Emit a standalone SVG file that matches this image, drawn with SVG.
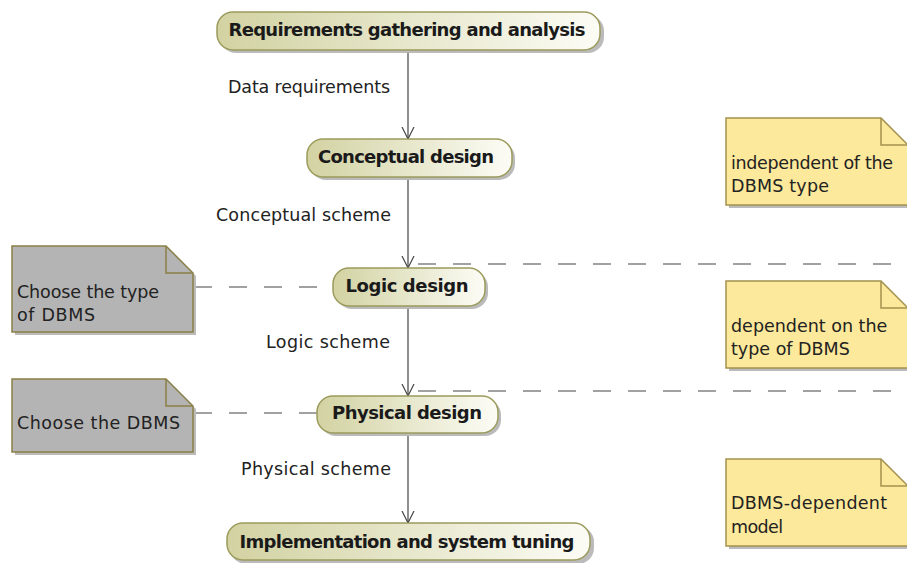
<svg xmlns="http://www.w3.org/2000/svg" width="907" height="563" viewBox="0 0 907 563">
<defs>
<linearGradient id="ng" x1="0" y1="0" x2="1" y2="0">
<stop offset="0" stop-color="#d2d2a2"/>
<stop offset="1" stop-color="#fcfcf6"/>
</linearGradient>
<marker id="arr" markerWidth="14" markerHeight="14" refX="12" refY="7" orient="auto" markerUnits="userSpaceOnUse" viewBox="0 0 14 14">
<path d="M0,1 L12,7 L0,13" fill="none" stroke="#444" stroke-width="1.2"/>
</marker>
</defs>
<style>
.node rect.b{fill:url(#ng);stroke:#9b9b5c;stroke-width:1.5}
.sh{fill:#bbb}
.nt{font-family:"DejaVu Sans","Liberation Sans",sans-serif;font-weight:bold;font-size:18px;fill:#1a1a1a;text-anchor:middle}
.lb{font-family:"DejaVu Sans","Liberation Sans",sans-serif;font-size:17.5px;fill:#222;text-anchor:end}
.tx{font-family:"DejaVu Sans","Liberation Sans",sans-serif;font-size:17.5px;fill:#222}
.gn{fill:#b4b4b4;stroke:#8a8045;stroke-width:1.5}
.yn{fill:#fce99b;stroke:#a39150;stroke-width:1.5}
.fold{fill:none;stroke-width:1.5}
.flow{stroke:#444;stroke-width:1.2;fill:none}
.dash{stroke:#444;stroke-width:1.2;stroke-dasharray:18,17;fill:none}
</style>
<g id="connectors">
<line class="flow" x1="408" y1="50" x2="408" y2="139" marker-end="url(#arr)"/>
<line class="flow" x1="408" y1="177" x2="408" y2="268" marker-end="url(#arr)"/>
<line class="flow" x1="408" y1="307" x2="408" y2="396" marker-end="url(#arr)"/>
<line class="flow" x1="408" y1="434" x2="408" y2="523" marker-end="url(#arr)"/>
<line class="dash" x1="418" y1="264" x2="907" y2="264"/>
<line class="dash" x1="418" y1="391" x2="907" y2="391"/>
<line class="dash" x1="194" y1="287" x2="333" y2="287"/>
<line class="dash" x1="194" y1="413" x2="317" y2="413"/>
</g>
<g id="labels">
<text class="lb" x="390" y="93" textLength="162">Data requirements</text>
<text class="lb" x="391" y="221" textLength="175">Conceptual scheme</text>
<text class="lb" x="390" y="348" textLength="124">Logic scheme</text>
<text class="lb" x="391" y="475" textLength="150">Physical scheme</text>
</g>
<g id="n1" class="node">
<rect class="sh" x="220" y="15" width="384" height="38" rx="16"/>
<rect class="b" x="217" y="12" width="383" height="38" rx="16"/>
<text class="nt" x="407" y="36" textLength="357">Requirements gathering and analysis</text>
</g>
<g id="n2" class="node">
<rect class="sh" x="310" y="142" width="205" height="38" rx="16"/>
<rect class="b" x="307" y="139" width="205" height="38" rx="16"/>
<text class="nt" x="406" y="163" textLength="176">Conceptual design</text>
</g>
<g id="n3" class="node">
<rect class="sh" x="336" y="271" width="152" height="38" rx="16"/>
<rect class="b" x="333" y="268" width="152" height="38" rx="16"/>
<text class="nt" x="407" y="292" textLength="123">Logic design</text>
</g>
<g id="n4" class="node">
<rect class="sh" x="320" y="399" width="181" height="37" rx="16"/>
<rect class="b" x="317" y="396" width="181" height="37" rx="16"/>
<text class="nt" x="407" y="419" textLength="150">Physical design</text>
</g>
<g id="n5" class="node">
<rect class="sh" x="230" y="526" width="364" height="38" rx="16"/>
<rect class="b" x="227" y="523" width="363" height="37" rx="16"/>
<text class="nt" x="407" y="548" textLength="335">Implementation and system tuning</text>
</g>
<g id="note1">
<path class="sh" d="M15,249 H169 L196,276 V335 H15 Z"/>
<path class="gn" d="M12,246 H166 L193,273 V332 H12 Z"/>
<path class="fold" stroke="#8a8045" d="M166,246 V273 H193"/>
<text class="tx" x="17" y="298" textLength="142">Choose the type</text>
<text class="tx" x="17" y="321" textLength="78">of DBMS</text>
</g>
<g id="note2">
<path class="sh" d="M15,382 H169 L196,409 V455 H15 Z"/>
<path class="gn" d="M12,379 H166 L193,406 V452 H12 Z"/>
<path class="fold" stroke="#8a8045" d="M166,379 V406 H193"/>
<text class="tx" x="17" y="429" textLength="163">Choose the DBMS</text>
</g>
<g id="note3">
<path class="sh" d="M729,121 H884 L911,148 V208 H729 Z"/>
<path class="yn" d="M726,118 H881 L908,145 V205 H726 Z"/>
<path class="fold" stroke="#a39150" d="M881,118 V145 H908"/>
<text class="tx" x="731" y="169" textLength="162">independent of the</text>
<text class="tx" x="731" y="192" textLength="98">DBMS type</text>
</g>
<g id="note4">
<path class="sh" d="M729,284 H884 L911,311 V371 H729 Z"/>
<path class="yn" d="M726,281 H881 L908,308 V368 H726 Z"/>
<path class="fold" stroke="#a39150" d="M881,281 V308 H908"/>
<text class="tx" x="731" y="332">dependent on the</text>
<text class="tx" x="731" y="355">type of DBMS</text>
</g>
<g id="note5">
<path class="sh" d="M729,462 H884 L911,489 V549 H729 Z"/>
<path class="yn" d="M726,459 H881 L908,486 V546 H726 Z"/>
<path class="fold" stroke="#a39150" d="M881,459 V486 H908"/>
<text class="tx" x="731" y="509" textLength="156">DBMS-dependent</text>
<text class="tx" x="731" y="533" textLength="52">model</text>
</g>
</svg>
